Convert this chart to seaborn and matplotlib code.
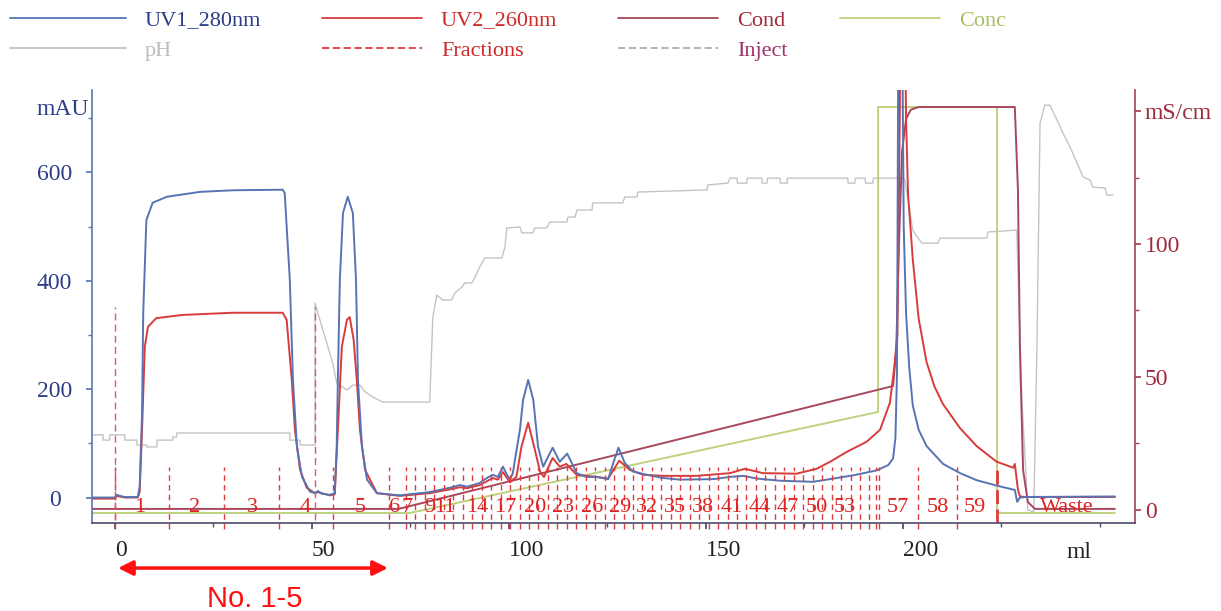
import matplotlib
matplotlib.use("Agg")
import matplotlib.pyplot as plt
import seaborn as sns
from matplotlib.lines import Line2D
from matplotlib.ticker import FixedLocator

# ---------------- data ----------------
uv1_ml = [-5.8, 0.0, 0.5, 1.3, 2.5, 5.8, 6.3, 6.9, 7.2, 8.0, 9.6, 13.2, 21.6, 30.0, 42.6, 43.1, 44.4, 45.2,
          46.2, 47.5, 49.5, 50.8, 51.5, 52.5, 54.6, 55.8, 56.3, 56.6, 57.1, 57.9, 59.1, 60.4, 61.2, 61.7, 62.7,
          64.0, 66.5, 72.3, 79.9, 85.0, 87.6, 89.3, 90.9, 92.6, 94.4, 95.9, 97.2, 98.5, 99.5, 100.3, 101.0,
          102.0, 102.8, 103.6, 104.9, 106.2, 107.4, 108.7, 111.1, 112.9, 114.8, 117.2, 119.7, 122.3, 125.2,
          126.5, 127.8, 129.4, 131.5, 135.0, 139.2, 143.4, 151.9, 156.1, 159.5, 162.9, 168.8, 177.2, 181.5,
          187.4, 193.3, 196.3, 197.5, 198.1, 198.5, 198.8, 199.2, 199.8, 200.2, 200.8, 201.6, 202.5, 204.0,
          206.0, 210.2, 214.5, 218.7, 223.8, 228.4, 229.0, 229.7, 231.4, 253.8]
uv1_mau = [0, 0, 5, 3, 1, 1, 20, 156, 341, 512, 544, 555, 564, 567, 568, 562, 402, 217,
           94, 38, 11, 8, 12, 7, 5, 8, 94, 217, 402, 525, 555, 525, 402, 217, 94,
           33, 8, 4, 10, 18, 23, 20, 23, 27, 36, 42, 38, 57, 42, 33, 45,
           90, 125, 180, 217, 180, 94, 57, 92, 66, 81, 45, 38, 38, 34,
           64, 92, 64, 48, 42, 36, 33, 34, 38, 40, 35, 31, 29, 34,
           41, 50, 60, 72, 110, 230, 800, 1300, 900, 500, 340, 240, 170, 125,
           95, 62, 45, 32, 22, 14, -8, 0, 1, 2]

uv2_ml = [-5.8, 0.0, 0.5, 2.5, 5.8, 6.3, 6.9, 7.6, 8.4, 10.5, 17.3, 30.0, 42.6, 43.6, 44.9, 45.7, 47.0,
          48.7, 50.8, 51.5, 54.6, 55.8, 56.6, 57.6, 58.9, 59.6, 60.6, 61.4, 62.2, 63.5, 66.5, 72.3, 79.9,
          85.0, 87.6, 89.3, 90.9, 92.6, 94.4, 95.9, 97.2, 98.5, 99.5, 100.3, 101.0, 101.9, 103.2, 104.9,
          106.6, 107.9, 108.9, 111.1, 112.9, 114.6, 117.2, 122.3, 125.2, 128.0, 130.7, 134.1, 139.2, 147.6,
          156.1, 159.9, 164.5, 173.0, 178.1, 181.5, 185.7, 190.8, 194.2, 196.7, 197.8, 198.6, 199.2, 199.8,
          200.3, 200.8, 201.3, 202.5, 204.0, 206.0, 208.0, 210.2, 214.5, 218.7, 223.8, 228.0, 228.4, 229.2,
          229.7, 231.0, 253.8]
uv2_mau = [-2, -2, 3, 0, 0, 10, 125, 278, 315, 331, 337, 341, 341, 328, 217, 125, 51,
           18, 8, 10, 4, 6, 125, 278, 328, 333, 291, 217, 125, 51, 8, 3, 8,
           15, 19, 17, 20, 23, 30, 36, 33, 47, 36, 28, 33, 38, 94, 138,
           88, 48, 38, 73, 57, 62, 42, 38, 35, 68, 51, 42, 40, 40,
           45, 53, 45, 44, 53, 66, 84, 103, 125, 175, 240, 300, 700, 1300,
           1000, 700, 560, 440, 330, 250, 205, 172, 128, 95, 66, 55, 62, 14,
           2, 1, 1]

cond_ml = [-5.8, 72.0, 197.5, 198.3, 199.0, 199.8, 200.8, 202.0, 204.0, 228.4, 229.2, 229.7, 230.5, 231.7,
           233.5, 253.8]
cond_mscm = [0.4, 0.4, 46.6, 60, 100, 135, 147, 150.5, 151.5, 151.5, 120, 60, 15, 3, 0.4, 0.4]

conc_ml = [-5.8, 74.9, 193.7, 193.7, 223.9, 223.9, 253.8]
conc_pct = [0, 0, 24.9, 100, 100, 0, 0]

ph_ml = [-5.8, -3.0, -3.0, -1.3, -1.3, 2.5, 2.5, 5.6, 5.6, 8.1, 8.1, 10.7, 10.7, 14.7, 14.7, 15.7, 15.7,
         44.4, 44.4, 47.0, 47.0, 50.8, 50.8, 52.8, 55.3, 56.3, 58.9, 60.4, 62.2, 63.5, 65.5, 68.0, 79.9,
         80.7, 81.7, 83.2, 85.5, 86.3, 88.1, 88.8, 90.6, 91.4, 92.6, 93.9, 98.2, 99.0, 99.5, 102.8, 103.3,
         106.1, 106.6, 109.6, 110.4, 114.7, 115.0, 116.8, 117.3, 121.1, 121.3, 128.9, 129.4, 132.5, 132.7,
         150.3, 150.5, 155.6, 156.1, 157.9, 158.0, 160.4, 160.5, 164.2, 164.3, 165.5, 165.6, 168.8, 168.9,
         170.6, 170.7, 186.0, 186.1, 187.8, 187.9, 190.4, 190.5, 192.4, 192.5, 200.0, 200.5, 202.5, 203.6,
         204.8, 208.9, 209.4, 221.3, 221.6, 228.9, 230.2, 231.7, 233.2, 234.0, 234.8, 236.0, 237.3, 239.1,
         240.6, 242.4, 244.2, 245.7, 247.5, 248.2, 251.3, 251.8, 253.3]
ph_val = [2.85, 2.85, 2.68, 2.68, 2.85, 2.85, 2.68, 2.68, 2.52, 2.52, 2.46, 2.46, 2.68, 2.68, 2.78, 2.78, 2.91,
          2.91, 2.68, 2.68, 2.52, 2.52, 7.11, 6.24, 5.17, 4.53, 4.30, 4.46, 4.46, 4.24, 4.07, 3.91, 3.91,
          6.66, 7.37, 7.21, 7.21, 7.44, 7.63, 7.76, 7.76, 7.95, 8.28, 8.57, 8.57, 8.92, 9.54, 9.57, 9.38,
          9.38, 9.54, 9.54, 9.73, 9.73, 9.89, 9.89, 10.12, 10.12, 10.35, 10.35, 10.54, 10.54, 10.70,
          10.77, 10.93, 10.99, 11.15, 11.15, 10.99, 10.99, 11.15, 11.15, 10.99, 10.99, 11.15, 11.15, 10.99,
          10.99, 11.15, 11.15, 10.99, 10.99, 11.15, 11.15, 10.99, 10.99, 11.15, 11.15, 11.09, 9.47, 9.25,
          9.05, 9.05, 9.21, 9.21, 9.41, 9.47, 3.98, 0.42, 0.36, 5.59, 12.93, 13.51, 13.51, 13.03,
          12.61, 12.16, 11.64, 11.19, 11.09, 10.86, 10.83, 10.60, 10.60]

frac_bounds = [0.0, 13.7, 27.7, 41.6, 55.3, 69.5, 73.9, 76.3, 78.7, 81.1, 83.5, 85.9, 88.3, 90.7, 93.1,
               95.5, 97.9, 100.3, 102.7, 105.1, 107.5, 109.9, 112.3, 114.7, 117.1, 119.5, 121.9, 124.3,
               126.7, 129.1, 131.5, 133.9, 136.3, 138.7, 141.1, 143.5, 145.9, 148.3, 150.7, 153.1, 155.5,
               157.9, 160.3, 162.7, 165.1, 167.5, 169.9, 172.3, 174.7, 177.1, 179.5, 181.9, 184.3, 186.7,
               189.1, 191.5, 193.1, 193.9, 203.8, 213.7]
waste_ml = 223.9
inject_ml = [0.0, 50.8]
frac_labels = ['1', '2', '3', '4', '5', '6', '7', '9', '11', '14', '17', '20', '23', '26', '29', '32', '35',
               '38', '41', '44', '47', '50', '53', '57', '58', '59', 'Waste']
frac_label_ml = [6.3, 20.3, 34.8, 48.2, 62.2, 71.1, 74.1, 79.9, 83.8, 91.9, 99.0, 106.6, 113.7, 121.1, 128.2,
                 135.0, 142.1, 149.2, 156.6, 163.7, 170.8, 178.2, 185.3, 198.7, 208.9, 218.3, 241.6]

left_ticks = [0, 200, 400, 600]
left_labels = ['0', '200', '400', '600']
left_unit = 'mAU'
right_ticks = [0, 50, 100, 150]
right_labels = ['0', '50', '100', 'mS/cm']
x_ticks = [0, 50, 100, 150, 200]
x_labels = ['0', '50', '100', '150', '200']
x_unit = 'ml'

# ---------------- style ----------------
sns.set_theme(style="white")
plt.rcParams['font.family'] = ['Liberation Serif', 'DejaVu Serif']

C_UV1 = '#5674b4'
C_UV2 = '#d93a3a'
C_COND = '#a8485c'
C_CONC = '#bcd27e'
C_PH = '#c4c4c4'
C_FRAC = '#e03a3a'
C_INJ = '#e0566a'

W, H = 1221, 611
fig = plt.figure(figsize=(W / 100, H / 100), dpi=100)
L, R, T, B = 92, 1135, 90, 523
rect = [L / W, 1 - B / H, (R - L) / W, (B - T) / H]

ax_ph = fig.add_axes(rect)
ax_conc = fig.add_axes(rect, sharex=ax_ph)
ax2 = fig.add_axes(rect, sharex=ax_ph)
ax = fig.add_axes(rect, sharex=ax_ph)
for a in (ax_ph, ax_conc, ax2, ax):
    a.patch.set_visible(False)
    for s in a.spines.values():
        s.set_visible(False)
    a.tick_params(left=False, right=False, bottom=False, top=False,
                  labelleft=False, labelright=False, labelbottom=False, labeltop=False)

XL = (-5.8, 258.9)
ax.set_xlim(*XL)
ax.set_ylim(-47, 752)
ax2.set_ylim(-4.9, 157.9)
ax_conc.set_ylim(-2.46, 104.2)
ax_ph.set_ylim(0, 14)

# traces
sns.lineplot(x=ph_ml, y=ph_val, ax=ax_ph, color=C_PH, lw=1.0, sort=False, estimator=None)
sns.lineplot(x=conc_ml, y=conc_pct, ax=ax_conc, color=C_CONC, lw=1.4, sort=False, estimator=None)
sns.lineplot(x=cond_ml, y=cond_mscm, ax=ax2, color=C_COND, lw=1.4, sort=False, estimator=None)
sns.lineplot(x=uv2_ml, y=uv2_mau, ax=ax, color=C_UV2, lw=1.4, sort=False, estimator=None)
sns.lineplot(x=uv1_ml, y=uv1_mau, ax=ax, color=C_UV1, lw=1.4, sort=False, estimator=None)
for a in (ax_ph, ax_conc, ax2, ax):
    a.set_xlim(*XL)
    a.set_xlabel('')
    a.set_ylabel('')

# fractions / injections
ax.vlines(frac_bounds, -58, 56, colors=C_FRAC, linestyles=(0, (4, 3)), lw=1.0, clip_on=False)
ax.vlines([waste_ml], -47, 60, colors=C_FRAC, linestyles=(0, (5, 2)), lw=2.0)
ax.vlines(inject_ml, -41, 351, colors=C_INJ, linestyles=(0, (5, 3)), lw=1.0)
for lab, xm in zip(frac_labels, frac_label_ml):
    ax.text(xm, -18, lab, ha='center', va='center', color='#e02222', fontsize=16, zorder=5)

# left axis
ax.spines['left'].set_visible(True)
ax.spines['left'].set_color('#5a76b6')
ax.spines['bottom'].set_visible(True)
ax.spines['bottom'].set_color('#4a4a68')
ax.spines['left'].set_linewidth(1.2)
ax.spines['bottom'].set_linewidth(1.2)
ax.set_yticks(left_ticks)
ax.set_yticklabels(left_labels)
ax.yaxis.set_minor_locator(FixedLocator([100, 300, 500, 700]))
ax.tick_params(axis='y', which='both', left=True, labelleft=True, direction='out', color='#5a76b6',
               labelcolor='#2d3d86', labelsize=17, pad=23)
ax.tick_params(axis='y', which='major', length=4)
ax.tick_params(axis='y', which='minor', length=3)
for t in ax.get_yticklabels():
    t.set_ha('center')
ax.text(-0.028, 716, left_unit, transform=ax.get_yaxis_transform(), ha='center', va='center',
        fontsize=17, color='#2d3d86')

# bottom axis
ax.set_xticks(x_ticks)
ax.set_xticklabels(x_labels)
ax.xaxis.set_minor_locator(FixedLocator([25, 75, 125, 175, 225, 250]))
ax.tick_params(axis='x', which='both', bottom=True, labelbottom=True, direction='out', color='#4a4a68',
               labelcolor='#222222', labelsize=17, pad=8)
ax.tick_params(axis='x', which='major', length=4)
ax.tick_params(axis='x', which='minor', length=3)
for t in ax.get_xticklabels():
    t.set_ha('left')
ax.text(244.7, -0.045, x_unit, transform=ax.get_xaxis_transform(), ha='center', va='top',
        fontsize=17, color='#222222')

# right axis
ax2.spines['right'].set_visible(True)
ax2.spines['right'].set_color('#a84050')
ax2.spines['right'].set_linewidth(1.2)
ax2.yaxis.tick_right()
ax2.set_yticks(right_ticks)
ax2.set_yticklabels(right_labels)
ax2.yaxis.set_minor_locator(FixedLocator([25, 75, 125]))
ax2.tick_params(axis='y', which='both', right=True, labelright=True, left=False, labelleft=False,
                direction='out', color='#a84050', labelcolor='#a02a3c', labelsize=17, pad=3)
ax2.tick_params(axis='y', which='major', length=4)
ax2.tick_params(axis='y', which='minor', length=3)

# arrow annotation "No. 1-5"
ax.annotate('', xy=(0.8, -0.104), xytext=(69.3, -0.104), xycoords=ax.get_xaxis_transform(),
            textcoords=ax.get_xaxis_transform(), annotation_clip=False,
            arrowprops=dict(arrowstyle='<|-|>', color='#ff1010', lw=2.5, mutation_scale=22,
                            shrinkA=0, shrinkB=0))
ax.text(35.5, -0.176, 'No. 1-5', transform=ax.get_xaxis_transform(), ha='center', va='center',
        fontsize=21, color='#ff1010', family=['Liberation Sans', 'DejaVu Sans'])

# legend (four columns placed like the instrument software)
legend_cols = [
    dict(x=10, hl=5.2, items=[('UV1_280nm', C_UV1, '-', '#2c3c85'), ('pH', C_PH, '-', '#bdbdbd')]),
    dict(x=322, hl=4.5, items=[('UV2_260nm', C_UV2, '-', '#d02828'),
                               ('Fractions', C_FRAC, (0, (4, 2)), '#d02828')]),
    dict(x=618, hl=4.5, items=[('Cond', C_COND, '-', '#a02a3a'),
                               ('Inject', '#b8a8b0', (0, (4, 2)), '#a0306a')]),
    dict(x=840, hl=4.5, items=[('Conc', C_CONC, '-', '#a8c060')]),
]
for col in legend_cols:
    hs = [Line2D([], [], color=c, lw=1.3, ls=ls) for (_, c, ls, _) in col['items']]
    ls_ = [lab for (lab, _, _, _) in col['items']]
    leg = fig.legend(hs, ls_, loc='upper left', bbox_to_anchor=(col['x'] / W, 1 - 10 / H),
                     frameon=False, fontsize=16, handlelength=col['hl'], handletextpad=0.85,
                     labelspacing=0.45, borderpad=0, borderaxespad=0)
    for t, (_, _, _, tc) in zip(leg.get_texts(), col['items']):
        t.set_color(tc)

fig.savefig('out.png', dpi=100)
